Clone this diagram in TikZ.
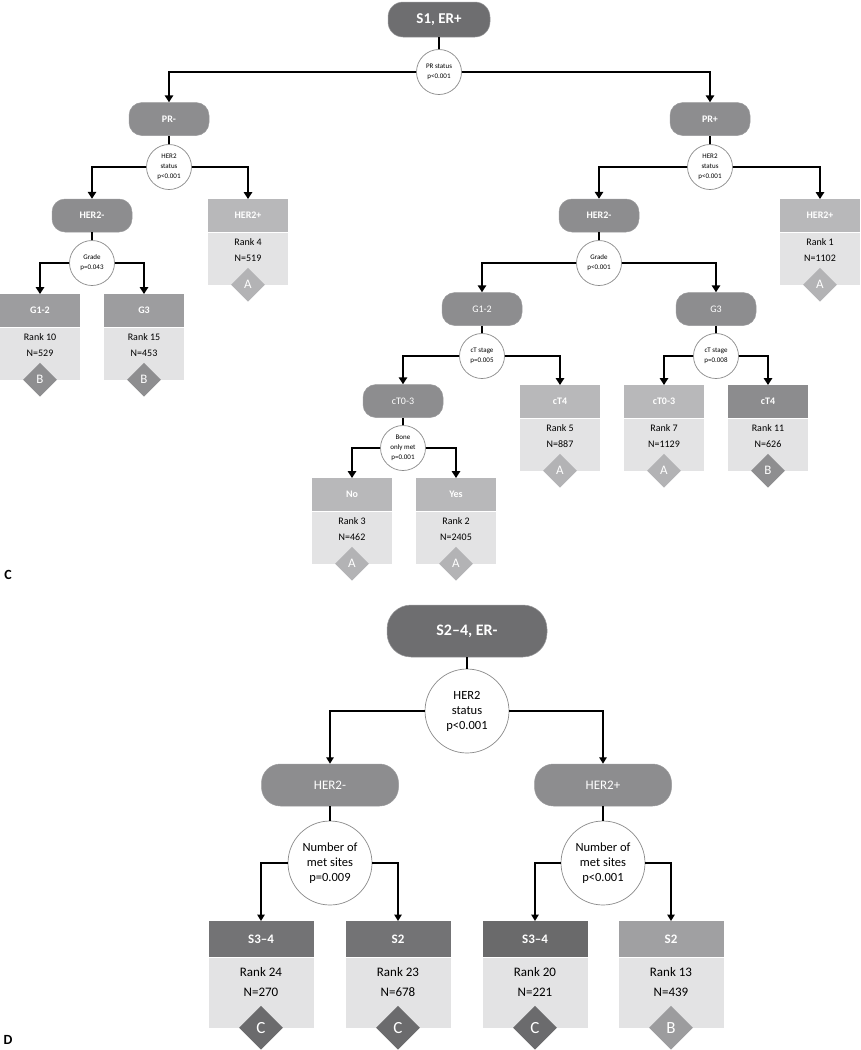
\documentclass[tikz,border=0pt]{standalone}
\usepackage{fontspec}
\setmainfont{Carlito}
\usetikzlibrary{arrows.meta,shapes.geometric,calc}
\definecolor{cDark}{HTML}{6E6E70}
\definecolor{cRound}{HTML}{8D8D8F}
\definecolor{cRoundB}{HTML}{9A9A9C}
\definecolor{cHL}{HTML}{B8B8BA}
\definecolor{cHM}{HTML}{9D9D9F}
\definecolor{cHD}{HTML}{8C8C8E}
\definecolor{cHD2}{HTML}{737375}
\definecolor{cHD3}{HTML}{6A6A6B}
\definecolor{cHS}{HTML}{A0A0A2}
\definecolor{cBody}{HTML}{E3E3E4}
\definecolor{cA}{HTML}{B3B3B5}
\definecolor{cB}{HTML}{8E8E90}
\definecolor{cBD}{HTML}{9C9C9E}
\definecolor{cC}{HTML}{6B6B6D}
\definecolor{cCirc}{HTML}{8A8A8A}
\newcommand\fsz[2]{\fontsize{#1}{#2}\selectfont}
\newcommand\leaf[9]{%
  \node[head, fill=#4, minimum width=\lw, minimum height=\hh, anchor=north] (#1) at (#2,#3) {#5};
  \node[body, minimum width=\lw, minimum height=\bh, anchor=north] (#1b) at (#1.south) {};
  \node[bodytxt, yshift=-\rt] (#1t) at (#1.south) {Rank #6\\N=#7};
  \node[dia, fill=#8, minimum width=\ds, minimum height=\ds] (#1d) at (#1b.south) {#9};
}
\begin{document}
\begin{tikzpicture}[x=1pt,y=-1pt,
  rnd/.style={rectangle, fill=cRound, draw=cRoundB, line width=0.5pt, text=white, inner sep=0pt, rounded corners=13pt, minimum width=80pt, minimum height=33pt, font=\bfseries\fsz{10}{12}},
  test/.style={circle, draw=cCirc, fill=white, line width=0.7pt, inner sep=0pt, align=center, minimum size=45pt, font=\fsz{7}{10}},
  head/.style={rectangle, inner sep=0pt, text=white, font=\bfseries\fsz{10}{12}},
  body/.style={rectangle, fill=cBody, inner sep=0pt},
  bodytxt/.style={anchor=center, align=center, inner sep=0pt, font=\fsz{10}{16.5}},
  dia/.style={diamond, aspect=1, inner sep=0pt, text=white, font=\fsz{13}{14}},
  ln/.style={line width=1.6pt},
  arr/.style={line width=1.6pt, line join=miter, -{Triangle[width=8.5pt,length=7pt]}},
  lab/.style={font=\bfseries\fsz{14}{16}, inner sep=0pt}
]
\useasboundingbox (0,0) rectangle (860,1050);
\def\lw{80pt}\def\hh{33pt}\def\bh{52pt}\def\rt{17.5pt}\def\ds{34pt}
% ---------- Part C ----------
\node[rnd, fill=cDark, minimum width=102pt, minimum height=35pt, rounded corners=15pt, font=\bfseries\fsz{15}{17}] (s1) at (439,19.5) {S1, ER+};
\node[test] (t0) at (439,72) {PR status\\p<0.001};
\node[rnd] (prm) at (169,119) {PR-};
\node[rnd] (prp) at (710,119) {PR+};
\node[test] (t1) at (169,167) {HER2\\status\\p<0.001};
\node[test] (t2) at (710,167) {HER2\\status\\p<0.001};
\node[rnd] (h2ml) at (92,215.5) {HER2-};
\node[rnd] (h2mr) at (599,215.5) {HER2-};
\node[test] (t3) at (92,263) {Grade\\p=0.043};
\node[test] (t4) at (599,263) {Grade\\p<0.001};
\node[rnd, font=\fsz{10}{12}] (g12) at (482,309) {G1-2};
\node[rnd, font=\fsz{10}{12}] (g3) at (716,309) {G3};
\node[test] (t5) at (482,356) {cT stage\\p=0.005};
\node[test] (t6) at (716,356) {cT stage\\p=0.008};
\node[rnd, font=\fsz{10}{12}] (ct03) at (403,401) {cT0-3};
\node[test] (t7) at (403,448) {Bone\\only met\\p=0.001};

\leaf{lh2p}{248}{199}{cHL}{HER2+}{4}{519}{cA}{A}
\leaf{lg12}{40}{294}{cHM}{G1-2}{10}{529}{cB}{B}
\leaf{lg3}{144}{294}{cHM}{G3}{15}{453}{cB}{B}
\leaf{rh2p}{820}{199}{cHL}{HER2+}{1}{1102}{cA}{A}
\leaf{ct4a}{560}{385}{cHL}{cT4}{5}{887}{cA}{A}
\leaf{ct03b}{664}{385}{cHL}{cT0-3}{7}{1129}{cA}{A}
\leaf{ct4b}{768}{385}{cHD}{cT4}{11}{626}{cB}{B}
\leaf{no}{352}{478}{cHL}{No}{3}{462}{cA}{A}
\leaf{yes}{456}{478}{cHL}{Yes}{2}{2405}{cA}{A}

\draw[ln] (s1) -- (t0);
\draw[arr] (t0.west) -| (prm.north);
\draw[arr] (t0.east) -| (prp.north);
\draw[ln] (prm) -- (t1);
\draw[ln] (prp) -- (t2);
\draw[arr] (t1.west) -| (h2ml.north);
\draw[arr] (t1.east) -| (lh2p.north);
\draw[arr] (t2.west) -| (h2mr.north);
\draw[arr] (t2.east) -| (rh2p.north);
\draw[ln] (h2ml) -- (t3);
\draw[ln] (h2mr) -- (t4);
\draw[arr] (t3.west) -| (lg12.north);
\draw[arr] (t3.east) -| (lg3.north);
\draw[arr] (t4.west) -| (g12.north);
\draw[arr] (t4.east) -| (g3.north);
\draw[ln] (g12) -- (t5);
\draw[ln] (g3) -- (t6);
\draw[arr] (t5.west) -| (ct03.north);
\draw[arr] (t5.east) -| (ct4a.north);
\draw[arr] (t6.west) -| (ct03b.north);
\draw[arr] (t6.east) -| (ct4b.north);
\draw[ln] (ct03) -- (t7);
\draw[arr] (t7.west) -| (no.north);
\draw[arr] (t7.east) -| (yes.north);
\node[lab] (labC) at (8,575) {C};

% ---------- Part D ----------
\def\lw{105pt}\def\hh{36pt}\def\bh{70pt}\def\rt{25pt}\def\ds{44pt}
\tikzset{
  rnd/.append style={rounded corners=19pt, minimum width=137pt, minimum height=42pt, font=\fsz{13}{15}},
  test/.append style={minimum size=84pt, font=\fsz{12.5}{15}},
  head/.append style={font=\bfseries\fsz{13}{15}},
  bodytxt/.append style={font=\fsz{13}{20}},
  dia/.append style={font=\fsz{17}{18}},
  ln/.style={line width=1.4pt},
  arr/.style={line width=1.4pt, line join=miter, -{Triangle[width=7.5pt,length=6.5pt]}}
}
\node[rnd, fill=cDark, minimum width=160pt, minimum height=52pt, rounded corners=24pt, font=\bfseries\fsz{16}{18}] (s2) at (467,631) {S2--4, ER-};
\node[test] (d0) at (467,711) {HER2\\status\\p<0.001};
\node[rnd] (dh2m) at (330,785) {HER2-};
\node[rnd] (dh2p) at (603,785) {HER2+};
\node[test] (d1) at (330,863) {Number of\\met sites\\p=0.009};
\node[test] (d2) at (603,863) {Number of\\met sites\\p<0.001};
\leaf{da}{261}{921}{cHD2}{S3--4}{24}{270}{cC}{C}
\leaf{db}{398}{921}{cHD2}{S2}{23}{678}{cC}{C}
\leaf{dc}{535}{921}{cHD3}{S3--4}{20}{221}{cC}{C}
\leaf{dd}{671}{921}{cHS}{S2}{13}{439}{cBD}{B}
\draw[ln] (s2) -- (d0);
\draw[arr] (d0.west) -| (dh2m.north);
\draw[arr] (d0.east) -| (dh2p.north);
\draw[ln] (dh2m) -- (d1);
\draw[ln] (dh2p) -- (d2);
\draw[arr] (d1.west) -| (da.north);
\draw[arr] (d1.east) -| (db.north);
\draw[arr] (d2.west) -| (dc.north);
\draw[arr] (d2.east) -| (dd.north);
\node[lab] (labD) at (8,1040) {D};
\end{tikzpicture}
\end{document}
